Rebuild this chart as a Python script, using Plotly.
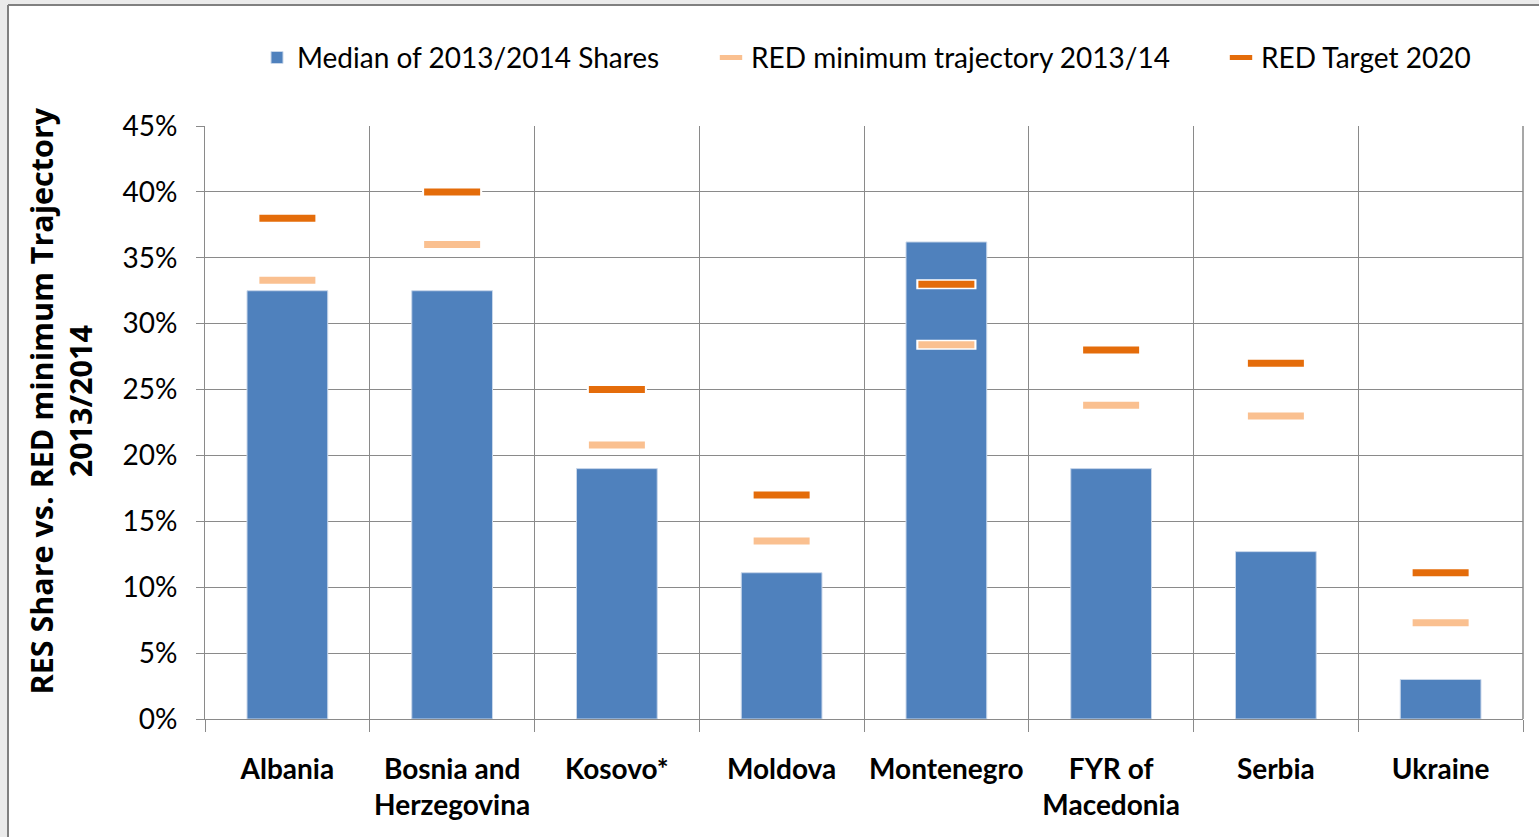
import plotly.graph_objects as go

countries = ["Albania", "Bosnia and<br>Herzegovina", "Kosovo*", "Moldova", "Montenegro",
             "FYR of<br>Macedonia", "Serbia", "Ukraine"]
median_share = [32.5, 32.5, 19.0, 11.1, 36.2, 19.0, 12.7, 3.0]
red_trajectory = [33.3, 36.0, 20.8, 13.5, 28.4, 23.8, 23.0, 7.3]
red_target = [38.0, 40.0, 25.0, 17.0, 33.0, 28.0, 27.0, 11.1]
y_ticks = [0, 5, 10, 15, 20, 25, 30, 35, 40, 45]
y_tick_labels = [f"{v}%" for v in y_ticks]
y_title = "RES Share vs. RED minimum Trajectory<br>2013/2014"

FONT = "Lato, Open Sans, sans-serif"
BLUE = "#4F81BD"
LIGHT = "#FAC090"
DARK = "#E46C0A"
GRID = "#8a8a8a"

fig = go.Figure()
fig.add_trace(go.Bar(x=countries, y=median_share, name="Median of 2013/2014 Shares",
                     marker=dict(color=BLUE, line=dict(color="#c9d7ea", width=1)),
                     width=0.49, legend="legend"))
# white halos
for vals in (red_trajectory, red_target):
    fig.add_trace(go.Scatter(x=countries, y=vals, mode="markers", showlegend=False,
                             hoverinfo="skip",
                             marker=dict(symbol="line-ew", size=43,
                                         line=dict(color="white", width=10))))
fig.add_trace(go.Scatter(x=countries, y=red_trajectory, mode="markers",
                         name="RED minimum trajectory 2013/14", legend="legend2",
                         marker=dict(symbol="line-ew", size=40, color=LIGHT,
                                     line=dict(color=LIGHT, width=7))))
fig.add_trace(go.Scatter(x=countries, y=red_target, mode="markers",
                         name="RED Target 2020", legend="legend3",
                         marker=dict(symbol="line-ew", size=40, color=DARK,
                                     line=dict(color=DARK, width=7))))

PW = 1318.0
PH = 593.0
def lx(px):
    return (px - 205) / PW
def ly(py):
    return (719 - py) / PH

leg_common = dict(orientation="h", y=1.115, xanchor="left", yanchor="middle",
                  font=dict(family=FONT, size=28, color="black"), itemwidth=30,
                  bgcolor="rgba(0,0,0,0)")

fig.update_layout(
    width=1539, height=837,
    margin=dict(l=205, r=16, t=126, b=118, autoexpand=False),
    paper_bgcolor="white", plot_bgcolor="white",
    font=dict(family=FONT, size=26, color="black"),
    showlegend=True,
    legend=dict(x=lx(257), **leg_common),
    legend2=dict(x=lx(711), **leg_common),
    legend3=dict(x=lx(1221), **leg_common),
    xaxis=dict(type="category", range=[-0.5, 7.5], tickson="boundaries",
               showgrid=True, gridcolor=GRID,
               gridwidth=1, ticks="outside", ticklen=12, tickcolor=GRID,
               showline=True, linecolor=GRID, automargin=False,
               tickfont=dict(family=FONT, size=28, color="black", weight="bold"),
               ticklabelstandoff=25, tickangle=0),
    yaxis=dict(range=[0, 45], tickvals=y_ticks, ticktext=y_tick_labels,
               showgrid=True, gridcolor=GRID, gridwidth=1,
               ticks="outside", ticklen=8, tickcolor=GRID, automargin=False,
               showline=True, linecolor=GRID, zeroline=False,
               tickfont=dict(family=FONT, size=28, color="black"),
               ticklabelstandoff=13),
)
fig.add_annotation(text=y_title, xref="paper", yref="paper", x=lx(60.5), y=ly(401),
                   xanchor="center", yanchor="middle", textangle=-90, showarrow=False,
                   font=dict(family="Open Sans, sans-serif", size=30.5, color="black",
                             weight="bold"))
# right border of plot area
fig.add_shape(type="line", xref="paper", yref="paper", x0=1, x1=1, y0=0, y1=1,
              line=dict(color=GRID, width=1.5))
# outer light-grey strips and frame lines (top/left)
fig.add_shape(type="rect", xref="paper", yref="paper", x0=lx(0), x1=lx(8),
              y0=ly(837), y1=ly(0), fillcolor="#ebebeb", line=dict(width=0))
fig.add_shape(type="rect", xref="paper", yref="paper", x0=lx(0), x1=lx(1539),
              y0=ly(5), y1=ly(0), fillcolor="#ebebeb", line=dict(width=0))
fig.add_shape(type="line", xref="paper", yref="paper", x0=lx(8), x1=lx(8),
              y0=ly(837), y1=ly(5), line=dict(color="#808080", width=2))
fig.add_shape(type="line", xref="paper", yref="paper", x0=lx(8), x1=lx(1539),
              y0=ly(5), y1=ly(5), line=dict(color="#808080", width=2))

fig.write_html("out.html", config={"displayModeBar": False},
               post_script="document.body.style.margin='0px';document.body.style.overflow='hidden';")
